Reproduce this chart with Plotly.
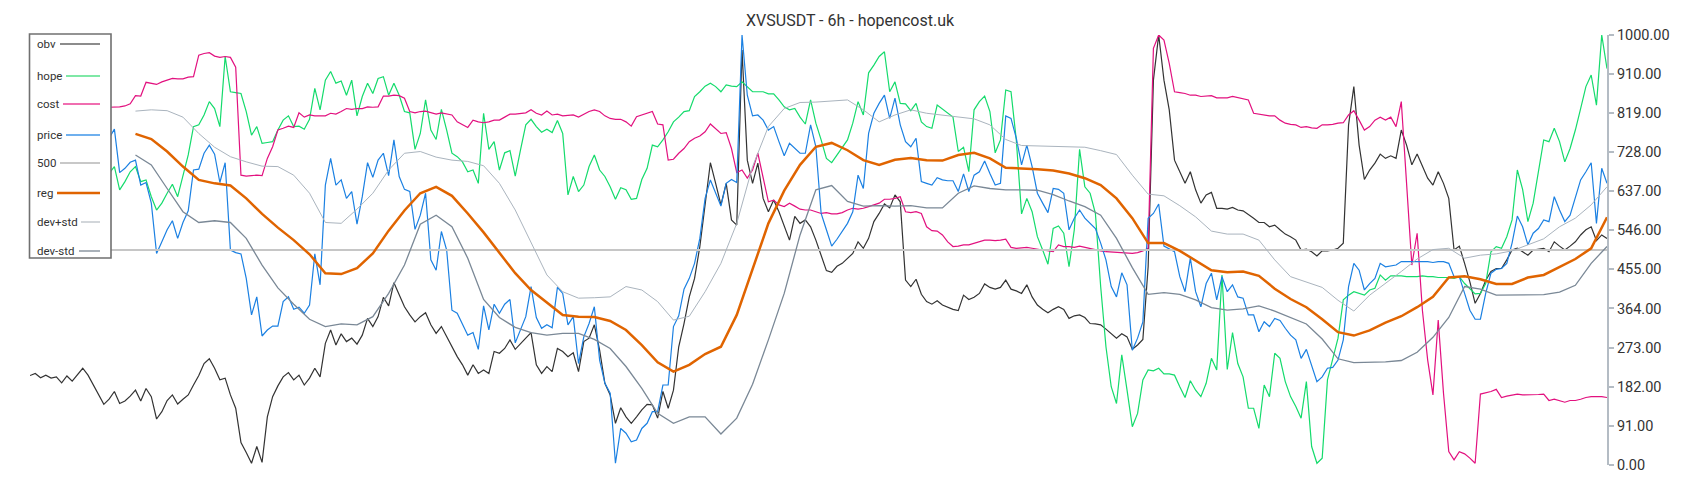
import plotly.graph_objects as go

TITLE = "XVSUSDT - 6h - hopencost.uk"

OBV = [
    208, 213, 203, 209, 202, 205, 191, 207, 195, 209,
    225, 209, 186, 161, 141, 153, 171, 143, 149, 160,
    174, 149, 178, 159, 107, 124, 150, 163, 142, 153,
    163, 186, 208, 236, 247, 225, 198, 202, 163, 132,
    52, 29, 4, 43, 6, 112, 159, 184, 205, 215,
    198, 209, 186, 202, 225, 205, 283, 314, 279, 305,
    287, 295, 281, 302, 341, 322, 345, 390, 370, 424,
    395, 368, 349, 333, 345, 354, 326, 306, 322, 298,
    275, 252, 233, 209, 233, 213, 221, 213, 264, 260,
    271, 291, 269, 283, 295, 308, 233, 213, 229, 217,
    271, 264, 252, 261, 217, 287, 295, 326, 267, 190,
    163, 97, 133, 112, 97, 112, 128, 141, 140, 109,
    171, 132, 174, 275, 329, 391, 434, 508, 609, 703,
    655, 605, 655, 570, 558, 965, 709, 655, 702, 620,
    589, 616, 589, 554, 523, 578, 562, 570, 554, 523,
    488, 452, 448, 462, 469, 480, 492, 519, 504, 527,
    566, 585, 607, 598, 628, 612, 430, 415, 432, 397,
    380, 374, 382, 372, 367, 362, 359, 395, 385, 390,
    399, 421, 413, 409, 413, 430, 409, 405, 399, 419,
    391, 372, 362, 354, 362, 368, 362, 341, 347, 349,
    343, 329, 328, 326, 316, 306, 295, 305, 298, 269,
    279, 292, 461, 895, 1000, 895, 826, 709, 682, 655,
    682, 640, 609, 628, 634, 597, 597, 595, 599, 593,
    591, 583, 574, 564, 564, 554, 558, 547, 537, 531,
    523, 500, 502, 496, 486, 498, 498, 500, 504, 516,
    791, 880, 744, 664, 686, 702, 723, 713, 719, 713,
    779, 744, 698, 723, 694, 667, 651, 682, 655, 620,
    500, 509, 469, 426, 376, 399, 429, 450, 457, 457,
    477, 500, 504, 496, 488, 500, 502, 504, 496, 519,
    509, 500, 509, 519, 535, 547, 554, 522, 535, 527,
]

HOPE = [
    680, 690, 670, 700, 660, 680, 650, 670, 690, 700,
    680, 660, 670, 690, 700, 678, 694, 640, 659, 682,
    694, 659, 663, 624, 593, 609, 632, 653, 624, 674,
    721, 787, 791, 814, 845, 829, 787, 950, 868, 866,
    864, 822, 767, 787, 748, 750, 752, 779, 802, 812,
    787, 788, 781, 804, 876, 826, 895, 915, 888, 893,
    860, 895, 812, 857, 888, 864, 899, 903, 860, 888,
    860, 822, 819, 734, 771, 849, 779, 757, 827, 779,
    725, 717, 705, 682, 686, 655, 818, 734, 752, 686,
    726, 731, 672, 733, 791, 804, 787, 774, 781, 773,
    801, 771, 628, 671, 636, 651, 694, 721, 686, 671,
    647, 618, 645, 640, 618, 620, 664, 690, 744, 740,
    756, 775, 798, 809, 822, 824, 857, 868, 881, 888,
    880, 868, 884, 881, 880, 891, 880, 868, 868, 868,
    863, 863, 849, 833, 826, 829, 809, 793, 849, 795,
    756, 713, 703, 720, 736, 756, 795, 845, 814, 912,
    930, 950, 961, 868, 891, 841, 840, 824, 841, 798,
    787, 783, 837, 827, 819, 809, 729, 739, 682, 826,
    845, 858, 822, 726, 756, 872, 868, 756, 584, 620,
    589, 531, 500, 467, 550, 556, 539, 461, 547, 734,
    647, 632, 585, 415, 275, 182, 143, 256, 174, 89,
    120, 198, 221, 219, 225, 212, 212, 209, 182, 157,
    196, 174, 159, 190, 248, 221, 442, 222, 308, 236,
    205, 132, 132, 85, 186, 159, 260, 248, 194, 159,
    136, 109, 194, 43, 4, 16, 198, 244, 295, 384,
    395, 403, 399, 395, 407, 411, 442, 430, 440, 440,
    440, 438, 438, 438, 440, 438, 438, 436, 436, 436,
    434, 438, 422, 411, 398, 399, 422, 496, 508, 504,
    531, 570, 686, 641, 566, 609, 686, 756, 752, 783,
    752, 705, 736, 779, 829, 880, 907, 837, 1000, 922,
]

COST = [
    828, 829, 830, 830, 831, 830, 829, 830, 831, 832,
    831, 830, 831, 832, 832, 832, 832, 833, 835, 840,
    859, 858, 890, 888, 885, 891, 895, 899, 898, 898,
    902, 903, 953, 957, 959, 951, 948, 950, 948, 925,
    674, 672, 673, 674, 673, 713, 740, 779, 783, 788,
    785, 819, 809, 814, 812, 812, 812, 818, 816, 822,
    829, 827, 829, 829, 833, 832, 833, 858, 858, 860,
    859, 853, 822, 819, 822, 823, 819, 816, 819, 816,
    814, 798, 791, 785, 802, 798, 796, 798, 802, 802,
    809, 816, 816, 818, 819, 826, 818, 814, 823, 814,
    816, 812, 813, 814, 809, 816, 822, 826, 822, 812,
    806, 804, 804, 798, 788, 810, 814, 818, 822, 793,
    791, 709, 711, 725, 736, 752, 760, 765, 775, 793,
    781, 771, 773, 736, 680, 686, 667, 686, 725, 667,
    612, 616, 605, 601, 609, 602, 595, 593, 593, 589,
    585, 587, 584, 584, 587, 593, 597, 595, 597, 601,
    605, 609, 618, 618, 620, 624, 589, 587, 589, 585,
    554, 545, 544, 535, 519, 508, 509, 512, 512, 516,
    519, 523, 523, 522, 523, 525, 506, 504, 505, 506,
    504, 502, 500, 498, 496, 512, 508, 508, 506, 509,
    506, 504, 500, 498, 496, 495, 494, 494, 492, 492,
    494, 498, 504, 969, 1000, 988, 934, 868, 866, 864,
    860, 860, 857, 858, 859, 854, 854, 854, 857, 854,
    851, 849, 818, 816, 814, 812, 812, 802, 795, 792,
    791, 785, 787, 784, 783, 791, 791, 792, 795, 796,
    814, 824, 802, 779, 787, 802, 809, 802, 809, 787,
    845, 663, 465, 539, 360, 244, 163, 337, 167, 31,
    12, 31, 26, 16, 4, 165, 168, 171, 176, 157,
    160, 163, 165, 163, 163, 163, 164, 165, 150, 153,
    150, 146, 150, 150, 153, 157, 159, 159, 159, 157,
]

PRICE = [
    700, 720, 690, 710, 730, 700, 680, 710, 740, 720,
    700, 730, 750, 740, 745, 760, 781, 680, 690, 704,
    709, 651, 657, 609, 492, 519, 547, 568, 527, 564,
    591, 686, 688, 725, 744, 723, 657, 703, 500, 494,
    491, 434, 349, 391, 300, 314, 323, 323, 380, 391,
    362, 367, 353, 372, 491, 419, 651, 713, 651, 663,
    620, 636, 560, 624, 703, 669, 709, 725, 673, 756,
    671, 641, 636, 548, 581, 632, 477, 453, 543, 500,
    360, 353, 326, 302, 308, 269, 370, 314, 374, 353,
    374, 385, 284, 314, 345, 415, 343, 318, 326, 319,
    413, 399, 326, 345, 236, 298, 329, 368, 244, 190,
    167, 4, 85, 74, 54, 58, 85, 97, 124, 124,
    186, 186, 322, 347, 409, 434, 469, 527, 620, 663,
    632, 602, 655, 664, 657, 1000, 860, 812, 814, 802,
    779, 787, 752, 719, 748, 736, 725, 725, 791, 740,
    585, 547, 509, 525, 543, 562, 589, 674, 643, 771,
    818, 841, 860, 806, 853, 791, 752, 740, 760, 659,
    655, 651, 668, 663, 661, 661, 636, 677, 636, 674,
    682, 707, 678, 651, 655, 812, 806, 760, 698, 744,
    694, 632, 609, 587, 643, 641, 632, 547, 574, 593,
    574, 562, 550, 516, 477, 415, 391, 447, 419, 267,
    295, 333, 574, 585, 607, 509, 502, 496, 438, 403,
    481, 403, 368, 422, 446, 384, 438, 403, 419, 391,
    388, 349, 349, 310, 333, 322, 341, 336, 318, 302,
    291, 248, 269, 233, 194, 205, 225, 227, 244, 291,
    415, 469, 453, 407, 422, 434, 469, 461, 463, 465,
    473, 473, 473, 474, 473, 473, 471, 473, 473, 469,
    438, 438, 399, 360, 339, 339, 399, 446, 455, 457,
    469, 516, 579, 554, 512, 539, 550, 570, 566, 624,
    593, 566, 581, 620, 663, 682, 703, 562, 690, 655,
]

LEVEL_500 = 500

# smoothed series, sampled every 3 bars from bar 20
SMOOTH_START, SMOOTH_STEP = 20, 3
DEV_PLUS = [
    823, 826, 824, 809, 771, 739, 717, 705, 695, 694,
    674, 632, 564, 562, 595, 632, 686, 725, 729, 716,
    709, 706, 696, 655, 593, 519, 442, 403, 388, 389,
    391, 415, 407, 380, 337, 346, 403, 469, 562, 694,
    787, 829, 843, 844, 847, 849, 826, 798, 814, 826,
    818, 814, 809, 805, 791, 757, 743, 742, 742, 740,
    739, 731, 722, 674, 630, 626, 603, 577, 544, 537,
    537, 523, 477, 438, 425, 413, 383, 358, 395, 422,
    450, 479, 501, 504, 481, 488, 491, 498, 512, 526,
    554, 574, 605, 647,
]
REG = [
    770, 758, 729, 694, 663, 655, 650, 620, 584, 552,
    523, 490, 446, 444, 458, 492, 545, 592, 632, 647,
    626, 585, 541, 493, 446, 407, 378, 349, 345, 344,
    335, 314, 279, 239, 217, 233, 258, 275, 349, 457,
    562, 638, 698, 740, 749, 732, 709, 698, 710, 714,
    709, 708, 721, 726, 713, 691, 690, 688, 685, 678,
    667, 651, 620, 574, 516, 516, 498, 475, 453, 448,
    450, 440, 410, 386, 367, 339, 309, 301, 313, 331,
    346, 367, 391, 436, 439, 432, 421, 421, 436, 442,
    460, 479, 504, 576,
]
DEV_MINUS = [
    721, 698, 643, 589, 564, 568, 564, 527, 465, 412,
    374, 339, 322, 328, 326, 345, 399, 465, 560, 581,
    554, 481, 385, 343, 320, 308, 302, 306, 306, 292,
    271, 229, 178, 120, 97, 112, 112, 72, 109, 188,
    291, 399, 535, 640, 650, 613, 602, 603, 602, 603,
    598, 598, 632, 649, 643, 640, 640, 639, 629, 614,
    601, 581, 527, 459, 397, 401, 397, 384, 366, 360,
    363, 370, 358, 343, 328, 293, 247, 238, 239, 240,
    243, 262, 297, 343, 415, 409, 395, 395, 395, 396,
    402, 418, 469, 508,
]

Y_TICKS = [0, 91, 182, 273, 364, 455, 546, 637, 728, 819, 910, 1000]
LEGEND_NAMES = ["obv", "hope", "cost", "price", "500", "reg", "dev+std", "dev-std"]

BARS = list(range(len(OBV)))
SMOOTH_BARS = [SMOOTH_START + SMOOTH_STEP * i for i in range(len(REG))]

# ---- styling ----
W, H = 1700, 500
PL, PR, PT, PB = 30, 1607, 35, 465
FONT = "Roboto, 'Noto Sans', sans-serif"
TEXT = "#333333"

STYLES = {
    "obv": ("#333333", 1.2),
    "hope": ("#14db6c", 1.2),
    "cost": ("#e2117f", 1.2),
    "price": ("#1b80e2", 1.2),
    "500": ("#c6c6c6", 2),
    "reg": ("#e06400", 2.5),
    "dev+std": ("#aab4be", 1),
    "dev-std": ("#7a8896", 1.3),
}

fig = go.Figure()


def add(x, y, name):
    color, width = STYLES[name]
    fig.add_trace(go.Scatter(x=x, y=y, mode="lines", name=name,
                             line=dict(color=color, width=width),
                             hoverinfo="skip", showlegend=False))


add(BARS, OBV, "obv")
add(BARS, HOPE, "hope")
add(BARS, COST, "cost")
add(BARS, PRICE, "price")
add([BARS[0], BARS[-1]], [LEVEL_500, LEVEL_500], "500")
add(SMOOTH_BARS, REG, "reg")
add(SMOOTH_BARS, DEV_PLUS, "dev+std")
add(SMOOTH_BARS, DEV_MINUS, "dev-std")


def pxx(x):
    return (x - PL) / (PR - PL)


def pxy(y):
    return (PB - y) / (PB - PT)


# custom legend (text left, sample line right), box with white fill
LEG_BOX = (29.5, 34, 111, 258)
LEG_ROWS_Y = [44, 76, 104, 135, 163, 193, 222, 251]
LEG_LINE_X0 = [60, 66, 63, 66, 60, 57, 81, 79]
LEG_LINE_X1 = 100
LEG_COLORS = ["#8c8c8c", "#7fe8a6", "#f06eb0", "#6fb0ee", "#c8c8c8", "#e06400", "#d2d6da", "#a9b1b9"]
LEG_WIDTHS = [2, 2, 2, 2, 2, 2.5, 2, 2]

shapes = [dict(type="rect", xref="paper", yref="paper",
               x0=pxx(LEG_BOX[0]), x1=pxx(LEG_BOX[2]),
               y0=pxy(LEG_BOX[1]), y1=pxy(LEG_BOX[3]),
               line=dict(color="#707070", width=1.6), fillcolor="white", layer="above")]
annotations = []
for name, yc, x0, col, wd in zip(LEGEND_NAMES, LEG_ROWS_Y, LEG_LINE_X0, LEG_COLORS, LEG_WIDTHS):
    shapes.append(dict(type="line", xref="paper", yref="paper",
                       x0=pxx(x0), x1=pxx(LEG_LINE_X1), y0=pxy(yc), y1=pxy(yc),
                       line=dict(color=col, width=wd), layer="above"))
    annotations.append(dict(text=name, xref="paper", yref="paper",
                            x=pxx(35), y=pxy(yc), xanchor="left", yanchor="middle",
                            showarrow=False, font=dict(size=11.5, color=TEXT, family=FONT)))

fig.update_layout(
    width=W, height=H,
    margin=dict(l=PL, r=W - PR, t=PT, b=H - PB, pad=0),
    paper_bgcolor="white", plot_bgcolor="white",
    font=dict(family=FONT, color=TEXT),
    title=dict(text=TITLE, x=0.5, xref="container", xanchor="center",
               y=1 - 20 / H, yref="container", yanchor="middle",
               font=dict(size=16, color=TEXT, family=FONT)),
    xaxis=dict(range=[BARS[0], BARS[-1]], visible=False, fixedrange=True),
    yaxis=dict(range=[0, 1000], side="right", showgrid=False, zeroline=False,
               showline=True, linecolor="#b4bcc4", linewidth=2,
               ticks="outside", ticklen=5, tickwidth=2, tickcolor="#b4bcc4",
               tickvals=Y_TICKS, ticktext=[f"{v:.2f}" for v in Y_TICKS],
               tickfont=dict(size=14.5, color=TEXT, family=FONT), fixedrange=True),
    showlegend=False,
    shapes=shapes,
    annotations=annotations,
)

fig.write_html(
    "out.html",
    config={"displayModeBar": False},
    post_script="document.body.style.margin='0';document.body.style.padding='0';",
)
